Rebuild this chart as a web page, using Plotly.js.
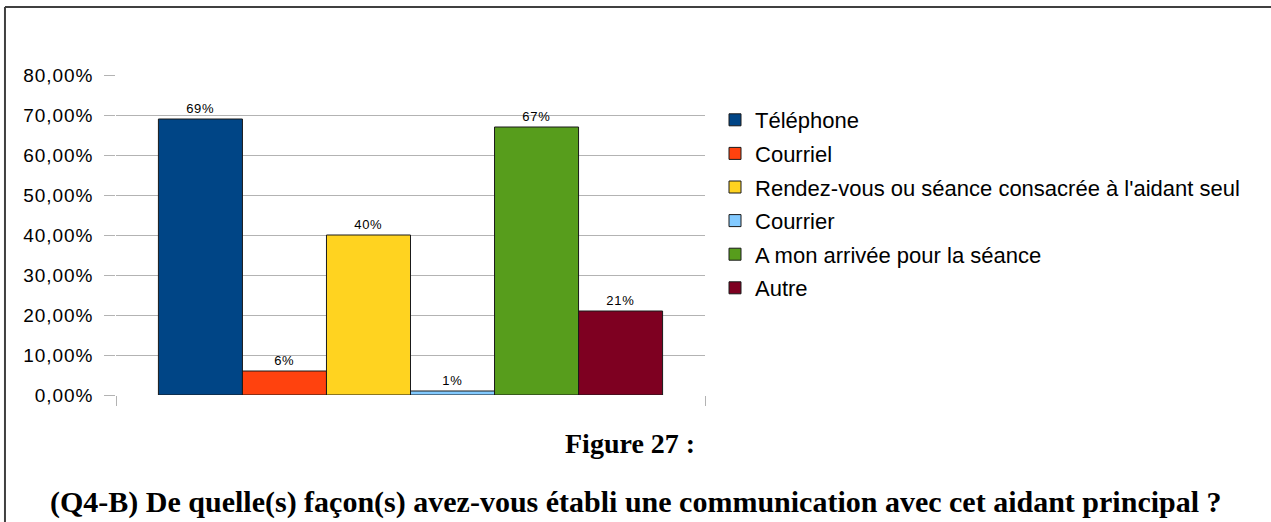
<!DOCTYPE html>
<html>
<head>
<meta charset="utf-8">
<script src="https://cdn.plot.ly/plotly-3.0.1.min.js"></script>
<style>
html,body{margin:0;padding:0;background:#fff;}
#chart{width:1271px;height:522px;}
#chart .ytick text{letter-spacing:0.9px;}
#chart .bartext{letter-spacing:0.7px;}
</style>
</head>
<body>
<div id="chart"></div>
<script>
const category = ["Q4-B"];
const seriesNames = ["Téléphone", "Courriel", "Rendez-vous ou séance consacrée à l'aidant seul", "Courrier", "A mon arrivée pour la séance", "Autre"];
const seriesValues = [0.69, 0.06, 0.40, 0.01, 0.67, 0.21];
const seriesColors = ["#004586", "#ff420e", "#ffd320", "#83caff", "#579d1c", "#7e0021"];
const yTickValues = [0, 0.1, 0.2, 0.3, 0.4, 0.5, 0.6, 0.7, 0.8];
const figureLabel = "Figure 27 :";
const questionText = "(Q4-B) De quelle(s) façon(s) avez-vous établi une communication avec cet aidant principal ?";

const traces = seriesNames.map((name, i) => ({
  type: "bar",
  name: name,
  legendgroup: "g" + i,
  x: category,
  y: [seriesValues[i]],
  marker: {color: seriesColors[i], line: {color: "#1a1a1a", width: 1}},
  texttemplate: "%{y:.0%}",
  textposition: "outside",
  cliponaxis: false,
  textfont: {family: "Liberation Sans, Arial, sans-serif", size: 13, color: "#000"},
  hoverinfo: "skip"
}));

const layout = {
  width: 1271, height: 522,
  margin: {l: 116, r: 566, t: 75, b: 127},
  paper_bgcolor: "#fff", plot_bgcolor: "#fff",
  separators: ", ",
  barmode: "group",
  bargap: 0.144,
  bargroupgap: 0,
  showlegend: true,
  legend: {
    x: 1.017, xanchor: "left", y: 0.925, yanchor: "top",
    font: {family: "Liberation Sans, Arial, sans-serif", size: 22, color: "#000"},
    tracegroupgap: 2,
    bgcolor: "rgba(0,0,0,0)"
  },
  xaxis: {
    type: "category",
    showticklabels: false,
    ticks: "outside", tickson: "boundaries", ticklen: 10, tickcolor: "#b3b3b3",
    showgrid: true, gridcolor: "#b3b3b3", gridwidth: 1,
    showline: false, zeroline: false, fixedrange: true
  },
  yaxis: {
    range: [0, 0.8],
    tickvals: yTickValues,
    tickformat: ".2%",
    ticks: "outside", ticklen: 11, tickcolor: "#b3b3b3",
    ticklabelstandoff: 7,
    showgrid: true, gridcolor: "#b3b3b3", gridwidth: 1,
    zeroline: false, showline: false,
    tickfont: {family: "Liberation Sans, Arial, sans-serif", size: 19, color: "#000"},
    fixedrange: true
  },
  shapes: [
    {type: "line", xref: "paper", yref: "paper", x0: -0.1885, x1: 1.961, y0: 1.2125, y1: 1.2125, line: {color: "#404040", width: 2}},
    {type: "line", xref: "paper", yref: "paper", x0: -0.1885, x1: -0.1885, y0: 1.2125, y1: -0.42, line: {color: "#404040", width: 2}}
  ],
  annotations: [
    {text: "<b>" + figureLabel + "</b>", xref: "paper", yref: "paper", x: 0.8727, y: -0.153, xanchor: "center", yanchor: "middle", showarrow: false,
     font: {family: "Liberation Serif, Times New Roman, serif", size: 28, color: "#000"}},
    {text: "<b>" + questionText + "</b>", xref: "paper", yref: "paper", x: 0.883, y: -0.334, xanchor: "center", yanchor: "middle", showarrow: false,
     font: {family: "Liberation Serif, Times New Roman, serif", size: 30, color: "#000"}}
  ]
};

Plotly.newPlot("chart", traces, layout, {displayModeBar: false, staticPlot: true});
</script>
</body>
</html>
